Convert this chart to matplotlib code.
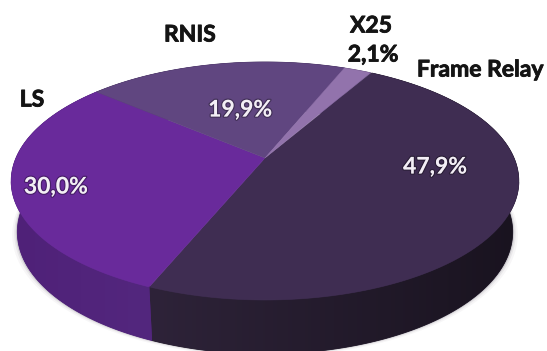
import numpy as np
import matplotlib
matplotlib.use("Agg")
import matplotlib.pyplot as plt
import matplotlib.patheffects as pe
from matplotlib.patches import Polygon
from matplotlib.colors import LinearSegmentedColormap

labels = ["Frame Relay", "LS", "RNIS", "X25"]
values = [47.9, 30.0, 19.9, 2.1]
value_text = ["47,9%", "30,0%", "19,9%", "2,1%"]
top_colors = ["#3f2d52", "#692a9b", "#604680", "#9273ac"]
wall_left = ["#2e2339", "#4f2178", "#42305a", "#5c4a72"]
wall_right = ["#19131f", "#53277e", "#42305a", "#5c4a72"]

START = 60.0
APEX = (265, 158)
RX, RY, PERSP = 249, 114.5, 0.193
DEPTH = 50.5


def project(phi, scale_x=1.0, scale_y=1.0, dy=0.0):
    # tilted disc: the far side gets squeezed, so the centre sits above the ellipse centre
    u, v = np.cos(phi), np.sin(phi)
    den = 1 + PERSP * v
    return APEX[0] + scale_x * RX * u / den, APEX[1] + dy - scale_y * RY * v / den


fig = plt.figure(figsize=(5.47, 3.51), dpi=100)
ax = fig.add_axes([0, 0, 1, 1])
ax.axis("off")

# soft shadow around the lower rim
ring = np.radians(np.linspace(0, 360, 361))
for grow, alpha in [(5, 0.04), (3, 0.07), (1.5, 0.14)]:
    x, y = project(ring, 0.976 + grow / 249, 1.025, DEPTH + grow / 2)
    ax.fill(x, y, color="#3a3040", alpha=alpha, lw=0, zorder=1)

# angles run clockwise from the start angle
edges = START - np.cumsum([0] + values) * 3.6

# walls, each one a horizontal gradient clipped to its outline
for i in range(len(values)):
    phi = np.radians(np.linspace(edges[i], edges[i + 1], 300))
    xt, yt = project(phi)
    xb, yb = project(phi, 0.976, 1.025, DEPTH)
    outline = np.c_[np.r_[xt, xb[::-1]], np.r_[yt, yb[::-1]]]
    cmap = LinearSegmentedColormap.from_list("wall", [wall_left[i], wall_right[i]])
    ax.add_patch(Polygon(outline, closed=True, color=matplotlib.colors.to_hex(cmap(0.5)), lw=0.6, zorder=2))
    img = ax.imshow(np.linspace(0, 1, 256)[None, :], cmap=cmap, aspect="auto", zorder=2.1,
                    extent=(outline[:, 0].min(), outline[:, 0].max(), outline[:, 1].max(), outline[:, 1].min()))
    img.set_clip_path(Polygon(outline, closed=True, transform=ax.transData))

ax.set_xlim(0, 547)
ax.set_ylim(351, 0)

# top faces
for i in range(len(values)):
    phi = np.radians(np.linspace(edges[i], edges[i + 1], 200))
    x, y = project(phi)
    ax.fill(np.r_[APEX[0], x], np.r_[APEX[1], y], color=top_colors[i], ec=top_colors[i], lw=0.3, zorder=3)
    front = np.sin(phi) < -0.2
    ax.plot(x[front], y[front], color=top_colors[i], lw=0.7, alpha=0.6, zorder=4)

name_pos = [(480, 70), (32, 100), (190, 35), (371, 26)]
pct_pos = [(435, 167), (56, 187), (240, 110), (373, 55)]

for i in range(len(labels)):
    t = ax.text(*name_pos[i], labels[i], family="Lato", weight="bold", fontsize=16.5,
                color="#141414", ha="center", va="center", zorder=6)
    t.set_path_effects([pe.withStroke(linewidth=0.6, foreground="#141414")])
    dark = i == 3
    t = ax.text(*pct_pos[i], value_text[i], family="Lato", weight="bold", fontsize=16.5,
                color="#141414" if dark else "#f3eef6", ha="center", va="center", zorder=6)
    if dark:
        t.set_path_effects([pe.withStroke(linewidth=0.6, foreground="#141414")])
    else:
        t.set_path_effects([pe.withStroke(linewidth=1.8, foreground="#00000050")])

fig.savefig("out.png", dpi=100)
